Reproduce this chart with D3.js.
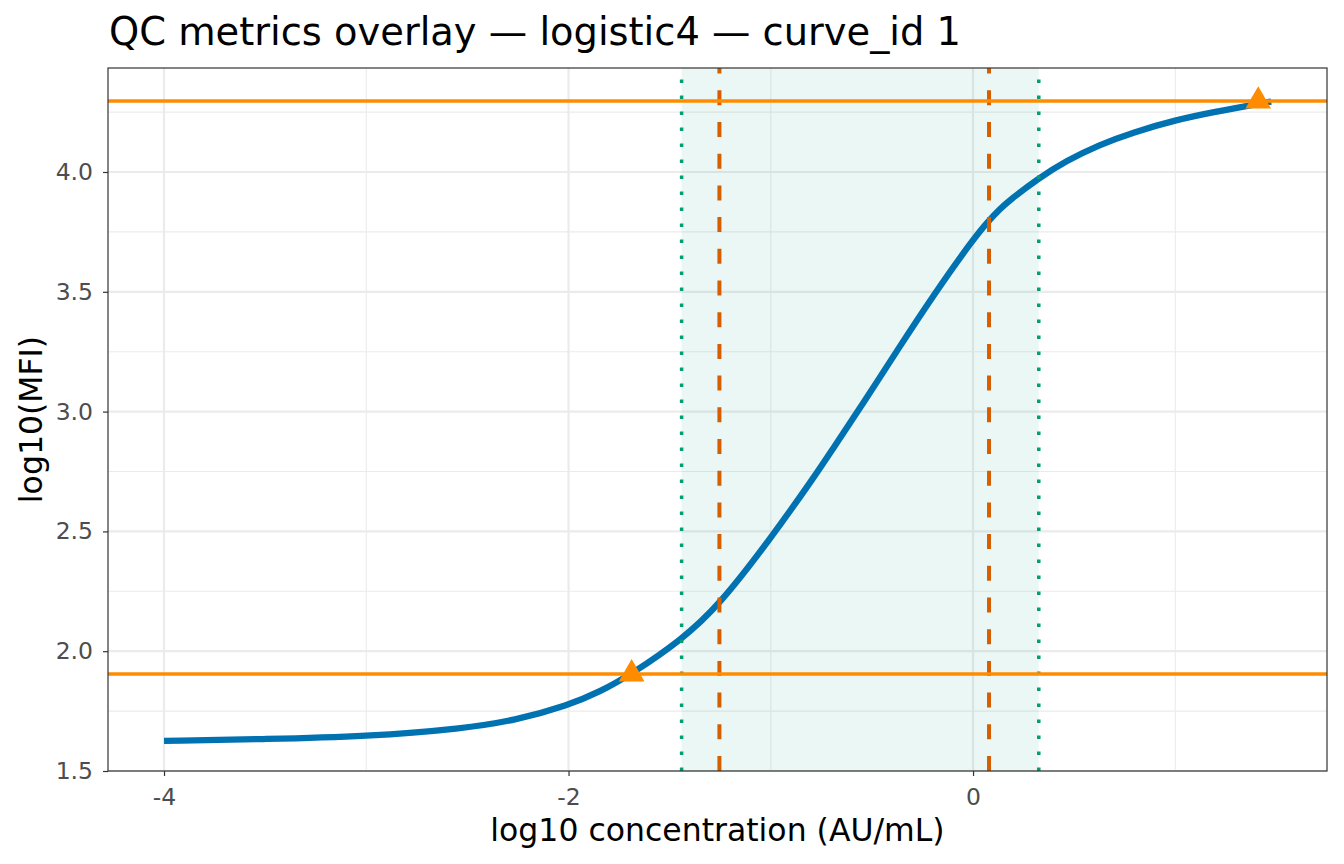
<!DOCTYPE html>
<html>
<head>
<meta charset="utf-8">
<script src="https://cdn.jsdelivr.net/npm/d3@7"></script>
<style>
  body { margin: 0; background: #fff; }
  svg { font-family: "DejaVu Sans", sans-serif; }
</style>
</head>
<body>
<svg id="chart" width="1344" height="864"></svg>
<script>
// fitted curve
const curveX = [-4, -3.49, -3, -2.52, -2.26, -2, -1.846, -1.688, -1.442, -1.257, -1, -0.775, -0.701, -0.533, -0.363, -0.199, 0.0025, 0.077, 0.131, 0.18, 0.32, 0.461, 0.625, 0.79, 1.001, 1.202, 1.416, 1.474];
const curveY = [1.626, 1.633, 1.644, 1.677, 1.712, 1.775, 1.830, 1.905, 2.047, 2.190, 2.471, 2.740, 2.835, 3.048, 3.271, 3.482, 3.722, 3.796, 3.844, 3.882, 3.972, 4.047, 4.114, 4.165, 4.217, 4.252, 4.285, 4.294];

// QC markers
const pointX = [-1.688, 1.41];
const pointY = [1.905, 4.296];
const hLines = [1.905, 4.296];
const dashedX = [-1.254, 0.079];
const dottedX = [-1.441, 0.325];

const xTicks = [-4, -2, 0];
const xMinor = [-3, -1, 1];
const yTicks = [1.5, 2.0, 2.5, 3.0, 3.5, 4.0];
const yMinor = [1.75, 2.25, 2.75, 3.25, 3.75, 4.25];

const svg = d3.select("#chart");
const margin = { left: 108, right: 17, top: 68, bottom: 93 };
const W = 1344, H = 864;

const x = d3.scaleLinear().domain([-4.277, 1.750]).range([margin.left, W - margin.right]);
const y = d3.scaleLinear().domain([1.5, 4.434]).range([H - margin.bottom, margin.top]);

const g = svg.append("g");

// grid
g.selectAll(".xminor").data(xMinor).enter().append("line")
  .attr("x1", d => x(d)).attr("x2", d => x(d))
  .attr("y1", y.range()[0]).attr("y2", y.range()[1])
  .attr("stroke", "#ebebeb").attr("stroke-width", 1.1);
g.selectAll(".yminor").data(yMinor).enter().append("line")
  .attr("y1", d => y(d)).attr("y2", d => y(d))
  .attr("x1", x.range()[0]).attr("x2", x.range()[1])
  .attr("stroke", "#ebebeb").attr("stroke-width", 1.1);
g.selectAll(".xmajor").data(xTicks).enter().append("line")
  .attr("x1", d => x(d)).attr("x2", d => x(d))
  .attr("y1", y.range()[0]).attr("y2", y.range()[1])
  .attr("stroke", "#ebebeb").attr("stroke-width", 2.2);
g.selectAll(".ymajor").data(yTicks).enter().append("line")
  .attr("y1", d => y(d)).attr("y2", d => y(d))
  .attr("x1", x.range()[0]).attr("x2", x.range()[1])
  .attr("stroke", "#ebebeb").attr("stroke-width", 2.2);

// shaded range between dotted lines
g.append("rect")
  .attr("x", x(dottedX[0])).attr("width", x(dottedX[1]) - x(dottedX[0]))
  .attr("y", margin.top).attr("height", y(1.5) - margin.top)
  .attr("fill", "#009E73").attr("fill-opacity", 0.08);

// curve
const line = d3.line()
  .x((d, i) => x(curveX[i]))
  .y(d => y(d))
  .curve(d3.curveBasis);
g.append("path")
  .datum(curveY)
  .attr("d", line)
  .attr("fill", "none")
  .attr("stroke", "#0072B2")
  .attr("stroke-width", 6.3);

// vertical markers
g.selectAll(".dotted").data(dottedX).enter().append("line")
  .attr("x1", d => x(d)).attr("x2", d => x(d))
  .attr("y1", y.range()[0]).attr("y2", y.range()[1])
  .attr("stroke", "#009E73").attr("stroke-width", 3.5)
  .attr("stroke-dasharray", "3.5,12.5");
g.selectAll(".dashed").data(dashedX).enter().append("line")
  .attr("x1", d => x(d)).attr("x2", d => x(d))
  .attr("y1", y.range()[0]).attr("y2", y.range()[1])
  .attr("stroke", "#D55E00").attr("stroke-width", 4)
  .attr("stroke-dasharray", "15,16.7");

// horizontal markers
g.selectAll(".hline").data(hLines).enter().append("line")
  .attr("y1", d => y(d)).attr("y2", d => y(d))
  .attr("x1", x.range()[0]).attr("x2", x.range()[1])
  .attr("stroke", "#FF8C00").attr("stroke-width", 3.5);

// triangles
g.selectAll(".pt").data(pointX).enter().append("path")
  .attr("d", d3.symbol().type(d3.symbolTriangle).size(286))
  .attr("transform", (d, i) => `translate(${x(d)},${y(pointY[i])})`)
  .attr("fill", "#FF8C00");

// panel border
g.append("rect")
  .attr("x", margin.left).attr("y", margin.top)
  .attr("width", W - margin.left - margin.right)
  .attr("height", H - margin.top - margin.bottom)
  .attr("fill", "none").attr("stroke", "#333333").attr("stroke-width", 1.2);

// axes
const xAxis = svg.append("g")
  .attr("transform", `translate(0,${H - margin.bottom})`)
  .call(d3.axisBottom(x).tickValues(xTicks).tickSize(5).tickPadding(12).tickFormat(d3.format("d")));
const yAxis = svg.append("g")
  .attr("transform", `translate(${margin.left},0)`)
  .call(d3.axisLeft(y).tickValues(yTicks).tickSize(5).tickPadding(10).tickFormat(d3.format(".1f")));
[xAxis, yAxis].forEach(a => {
  a.select(".domain").remove();
  a.selectAll(".tick line").attr("stroke", "#333333").attr("stroke-width", 1.2);
  a.selectAll(".tick text").attr("fill", "#4d4d4d").style("font-size", "23.5px")
    .style("font-family", "DejaVu Sans, sans-serif");
});
xAxis.selectAll(".tick text").text(d => d < 0 ? "-" + Math.abs(d) : d);

// titles
svg.append("text")
  .attr("x", 109).attr("y", 45)
  .style("font-size", "38.4px").attr("fill", "#000")
  .text("QC metrics overlay — logistic4 — curve_id 1");
svg.append("text")
  .attr("x", (x.range()[0] + x.range()[1]) / 2).attr("y", 841)
  .attr("text-anchor", "middle")
  .style("font-size", "31.5px").attr("fill", "#000")
  .text("log10 concentration (AU/mL)");
svg.append("text")
  .attr("transform", `translate(42,${(y.range()[0] + y.range()[1]) / 2}) rotate(-90)`)
  .attr("text-anchor", "middle")
  .style("font-size", "31.5px").attr("fill", "#000")
  .text("log10(MFI)");
</script>
</body>
</html>
